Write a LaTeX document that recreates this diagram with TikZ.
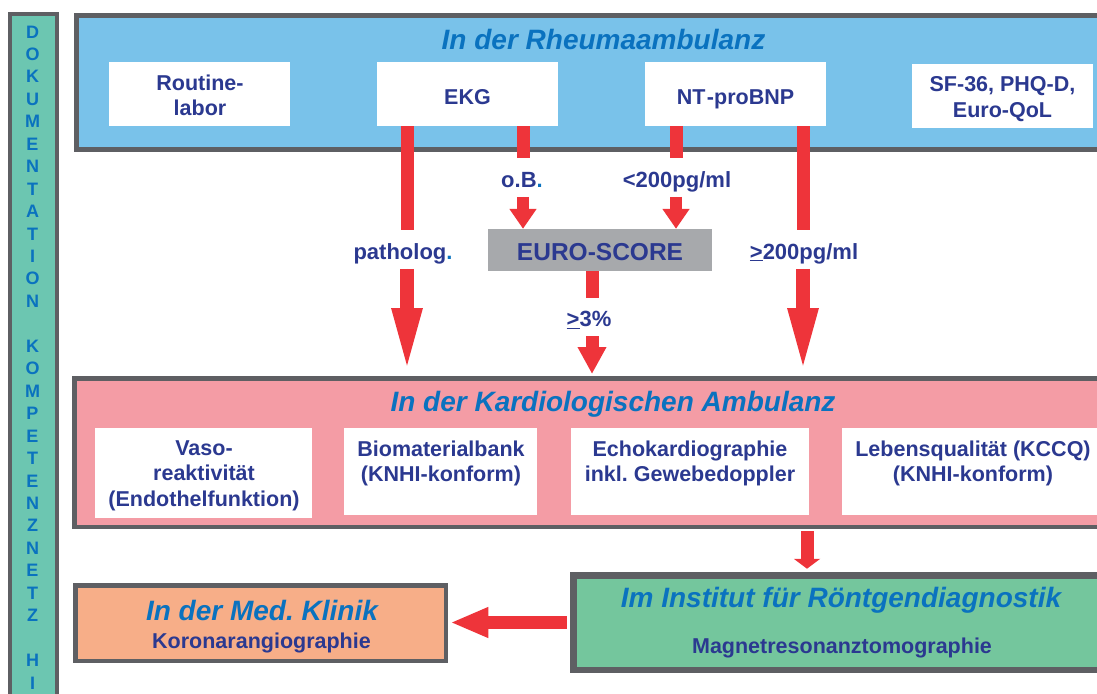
\documentclass[tikz,border=0pt]{standalone}
\usepackage{fontspec}
\setmainfont{Liberation Sans}
\usetikzlibrary{arrows.meta}
\frenchspacing
\definecolor{bordergrey}{HTML}{5E5F63}
\definecolor{rheumablue}{HTML}{79C2EA}
\definecolor{titleblue}{HTML}{0A72BF}
\definecolor{navy}{HTML}{2B3990}
\definecolor{arrowred}{HTML}{EE343A}
\definecolor{eurogrey}{HTML}{A7A9AC}
\definecolor{kardiopink}{HTML}{F49CA5}
\definecolor{roentgengreen}{HTML}{74C69D}
\definecolor{klinikorange}{HTML}{F7AE88}
\definecolor{sideteal}{HTML}{6CC6B1}
\tikzset{
  container/.style={draw=bordergrey, inner sep=0pt},
  whitebox/.style={fill=white, inner sep=0pt},
  boxtext/.style={text=navy, font=\bfseries\fontsize{21.5}{25.5}\selectfont, inner sep=0pt, align=center},
  titletext/.style={text=titleblue, font=\bfseries\itshape\fontsize{28}{32}\selectfont, inner sep=0pt, anchor=base},
  lbl/.style={text=navy, font=\bfseries\fontsize{22}{26}\selectfont, inner sep=0pt, minimum height=38.5pt, text height=19pt, text depth=0pt},
  sideletter/.style={text=titleblue, font=\bfseries\fontsize{18}{20}\selectfont, inner sep=0pt, anchor=base},
  shaft/.style={draw=arrowred, line width=13pt},
  bigarrow/.style={draw=arrowred, fill=arrowred, line width=13.5pt, -{Triangle[width=27pt,length=66pt]}},
  smallarrow/.style={draw=arrowred, fill=arrowred, line width=12.5pt, -{Triangle[width=26pt,length=20pt]}},
  midarrow/.style={draw=arrowred, fill=arrowred, line width=13pt, -{Triangle[width=27pt,length=27pt]}},
  downarrow/.style={draw=arrowred, fill=arrowred, line width=13pt, -{Triangle[width=26pt,length=10pt]}},
  leftarrow/.style={draw=arrowred, fill=arrowred, line width=13pt, -{Triangle[width=28pt,length=38pt]}}
}
\begin{document}
\begin{tikzpicture}[x=1pt,y=-1pt]
\useasboundingbox (0,0) rectangle (1097,693);
\clip (0,0) rectangle (1097,693);

% sidebar
\node[container, line width=4pt, fill=sideteal, minimum width=47pt, minimum height=706pt] (side) at (33.5,367) {};
\foreach \ch [count=\i from 0] in {D,O,K,U,M,E,N,T,A,T,I,O,N,{},K,O,M,P,E,T,E,N,Z,N,E,T,Z,{},H,I}
  \node[sideletter] (sb\i) at (32.5,{38+22.45*\i}) {\ch};

% containers
\node[container, line width=5pt, fill=rheumablue, minimum width=1038.5pt, minimum height=134pt] (rheuma) at (595.75,82.5) {};
\node[container, line width=4.5pt, fill=kardiopink, minimum width=1040.5pt, minimum height=148.5pt] (kardio) at (594.75,452.5) {};
\node[container, line width=6.5pt, fill=roentgengreen, minimum width=547pt, minimum height=94.5pt] (roent) at (846.75,622.5) {};
\node[container, line width=4.5pt, fill=klinikorange, minimum width=370.5pt, minimum height=75.5pt] (klinik) at (260.5,623) {};

% titles
\node[titletext] (rheumaT) at (603.5,50) {In der Rheumaambulanz};
\node[titletext] (kardioT) at (613,411) {In der Kardiologischen Ambulanz};
\node[titletext] (klinikT) at (262,620) {In der Med. Klinik};
\node[titletext] (roentT) at (841,607) {Im Institut für Röntgendiagnostik};
\node[boxtext, anchor=base] (klinikS) at (261.5,648) {Koronarangiographie};
\node[boxtext, anchor=base] (roentS) at (842,653) {Magnetresonanztomographie};

% white boxes top
\node[whitebox, minimum width=181pt, minimum height=64pt] (routine) at (199.5,94) {};
\node[whitebox, minimum width=181pt, minimum height=64pt] (ekg) at (467.5,94) {};
\node[whitebox, minimum width=181pt, minimum height=64pt] (nt) at (735.5,94) {};
\node[whitebox, minimum width=181pt, minimum height=64pt] (sf) at (1002.5,96) {};
\node[boxtext, anchor=north] (routineT) at (200,74.3) {Routine-\\labor};
\node[boxtext, anchor=base] (ekgT) at (467.5,104) {EKG};
\node[boxtext, anchor=base] (ntT) at (735.5,104) {NT\kern1.5pt-proBNP};
\node[boxtext, anchor=north] (sfT) at (1002.5,76.3) {SF-36, PHQ-D,\\Euro-QoL};

% euro score
\node[fill=eurogrey, inner sep=0pt, minimum width=224pt, minimum height=42pt] (euro) at (600,250) {};
\node[text=navy, font=\bfseries\fontsize{24.5}{28}\selectfont, inner sep=0pt, anchor=base] (euroT) at (600,260) {EURO-SCORE};

% white boxes bottom
\node[whitebox, minimum width=217pt, minimum height=90pt] (vaso) at (203.5,473) {};
\node[whitebox, minimum width=193pt, minimum height=87pt] (biomat) at (440.5,471.5) {};
\node[whitebox, minimum width=238pt, minimum height=87pt] (echo) at (690,471.5) {};
\node[whitebox, minimum width=258pt, minimum height=87pt] (lebens) at (971,471.5) {};
\node[boxtext, anchor=north] (vasoT) at (204,440.3) {Vaso-\\reaktivität\\(Endothelfunktion)};
\node[boxtext, anchor=north] (biomatT) at (441,440.3) {Biomaterialbank\\(KNHI-konform)};
\node[boxtext, anchor=north] (echoT) at (690,440.3) {Echokardiographie\\inkl. Gewebedoppler};
\node[boxtext, anchor=north] (lebensT) at (973,440.3) {Lebensqualität (KCCQ)\\(KNHI-konform)};

% labels
\node[lbl] (lblPath) at (403,249.5) {patholog\textcolor{titleblue}{.}};
\node[lbl] (lblOB) at (522,177.5) {o.B\textcolor{titleblue}{.}};
\node[lbl] (lblLT) at (677,177.5) {<200pg/ml};
\node[lbl] (lblGE) at (804,249.5) {\underline{>}200pg/ml};
\node[lbl] (lbl3) at (589,317) {\underline{>}3\%};

% arrow columns
\coordinate (colA) at (407,0);
\coordinate (colB) at (523,0);
\coordinate (colC) at (676,0);
\coordinate (colD) at (803,0);
\coordinate (colE) at (592,0);
\coordinate (colF) at (807,0);

% arrows
\draw[shaft] (ekg.south -| colA) -- (colA |- lblPath.north);
\draw[bigarrow] (colA |- lblPath.south) -- ([yshift=2pt]colA |- kardio.north);
\draw[shaft] (ekg.south -| colB) -- (colB |- lblOB.north);
\draw[smallarrow] (colB |- lblOB.south) -- (colB |- euro.north);
\draw[shaft] (nt.south -| colC) -- (colC |- lblLT.north);
\draw[smallarrow] (colC |- lblLT.south) -- (colC |- euro.north);
\draw[shaft] (nt.south -| colD) -- (colD |- lblGE.north);
\draw[bigarrow] (colD |- lblGE.south) -- ([yshift=2pt]colD |- kardio.north);
\draw[shaft] (euro.south -| colE) -- (colE |- lbl3.north);
\draw[midarrow] (colE |- lbl3.south) -- ([yshift=2pt]colE |- kardio.north);
\draw[downarrow] ([yshift=-2.25pt]kardio.south -| colF) -- ([yshift=3.25pt]roent.north -| colF);
\draw[leftarrow] ([xshift=-3.25pt]roent.west) -- ([xshift=2.25pt]roent.west -| klinik.east);
\end{tikzpicture}
\end{document}
